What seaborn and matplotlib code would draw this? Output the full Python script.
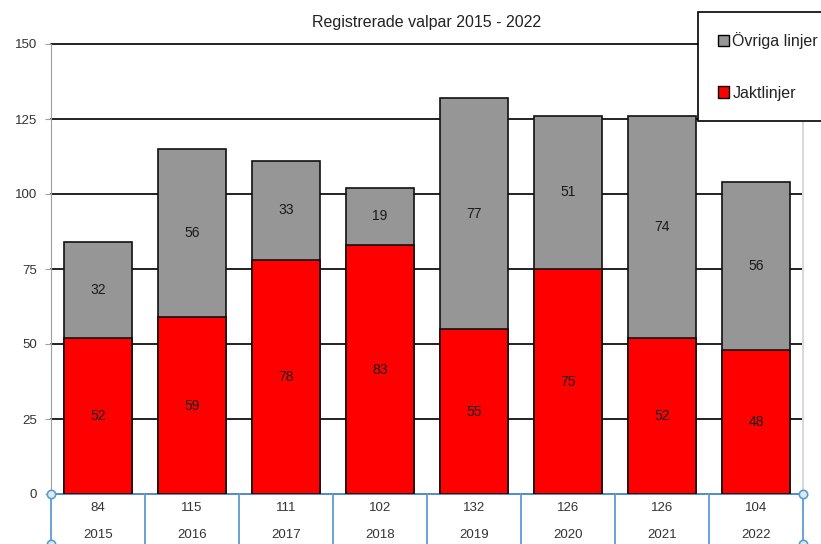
import pandas as pd
import numpy as np
import matplotlib
matplotlib.use('Agg')
import matplotlib.pyplot as plt
import seaborn as sns
from matplotlib.patches import Patch

years = ['2015', '2016', '2017', '2018', '2019', '2020', '2021', '2022']
jakt = [52, 59, 78, 83, 55, 75, 52, 48]
ovriga = [32, 56, 33, 19, 77, 51, 74, 56]
totals = [84, 115, 111, 102, 132, 126, 126, 104]

df = pd.DataFrame({'year': years, 'jakt': jakt, 'ovriga': ovriga, 'total': totals})

sns.set_style('white')
plt.rcParams['font.family'] = ['Liberation Sans', 'DejaVu Sans']

fig = plt.figure(figsize=(8.21, 5.44), dpi=100)
ax = fig.add_axes([51 / 821, 1 - 494 / 544, 752 / 821, 450 / 544])

# stacked bars: total (grey) behind, jakt (red) in front
sns.barplot(data=df, x='year', y='total', color='#969696', saturation=1,
            width=0.72, edgecolor='#111111', linewidth=1.2, ax=ax, zorder=3)
sns.barplot(data=df, x='year', y='jakt', color='#FF0000', saturation=1,
            width=0.72, edgecolor='#111111', linewidth=1.2, ax=ax, zorder=4)

# labels in the middle of each segment
for i, row in df.iterrows():
    ax.text(i, row['jakt'] / 2, str(row['jakt']), ha='center', va='center',
            fontsize=10, color='#1a1a1a', zorder=5)
    ax.text(i, row['jakt'] + row['ovriga'] / 2, str(row['ovriga']), ha='center',
            va='center', fontsize=10, color='#1a1a1a', zorder=5)

ax.set_ylim(0, 150)
ax.set_xlim(-0.5, len(years) - 0.5)
ax.set_yticks(np.arange(0, 151, 25))
ax.yaxis.grid(True, color='#111111', linewidth=1.3, zorder=1)
for gl in ax.get_ygridlines():
    gl.set_clip_on(False)
ax.set_axisbelow(True)
ax.tick_params(axis='y', length=4, color='#A0A0A0', labelsize=9.5, pad=6, labelcolor='#333333', left=True)
ax.tick_params(axis='x', bottom=False, labelbottom=False)
ax.set_xlabel('')
ax.set_ylabel('')
ax.spines['top'].set_visible(False)
ax.spines['left'].set_color('#A0A0A0')
ax.spines['right'].set_color('#D9D9D9')
ax.spines['right'].set_linewidth(1.5)
ax.spines['bottom'].set_color('#5B9BD5')
ax.spines['bottom'].set_linewidth(1.3)

ax.set_title('Registrerade valpar 2015 - 2022', fontsize=11.5, color='#222222', pad=12)

# data table under the axis
blue = '#5B9BD5'
trans = ax.get_xaxis_transform()
for i, row in df.iterrows():
    ax.text(i, -0.032, str(row['total']), transform=trans, ha='center', va='center',
            fontsize=9.5, color='#333333', clip_on=False)
    ax.text(i, -0.092, row['year'], transform=trans, ha='center', va='center',
            fontsize=9.5, color='#333333', clip_on=False)
for b in np.arange(-0.5, len(years), 1.0):
    ax.plot([b, b], [0, -0.2], transform=trans, color=blue, linewidth=1.3, clip_on=False)
for b in [-0.5, len(years) - 0.5]:
    ax.plot([b, b], [0, -0.111], transform=trans, linestyle='none', marker='o',
            markersize=6, markerfacecolor='#DCEBF7', markeredgecolor=blue,
            markeredgewidth=1.2, clip_on=False, zorder=6)

handles = [Patch(facecolor='#969696', edgecolor='black', label='Övriga linjer'),
           Patch(facecolor='#FF0000', edgecolor='black', label='Jaktlinjer')]
leg = fig.legend(handles=handles, loc='upper left', bbox_to_anchor=(698 / 821, 1 - 12 / 544),
                 frameon=True, fancybox=False, edgecolor='black', framealpha=1,
                 fontsize=11.5, handlelength=0.7, handleheight=0.7, handletextpad=0.2,
                 labelspacing=2.3, borderpad=1.25, borderaxespad=0)
leg.get_frame().set_linewidth(1.2)
for t in leg.get_texts():
    t.set_color('#222222')

plt.savefig('out.png', dpi=100)
